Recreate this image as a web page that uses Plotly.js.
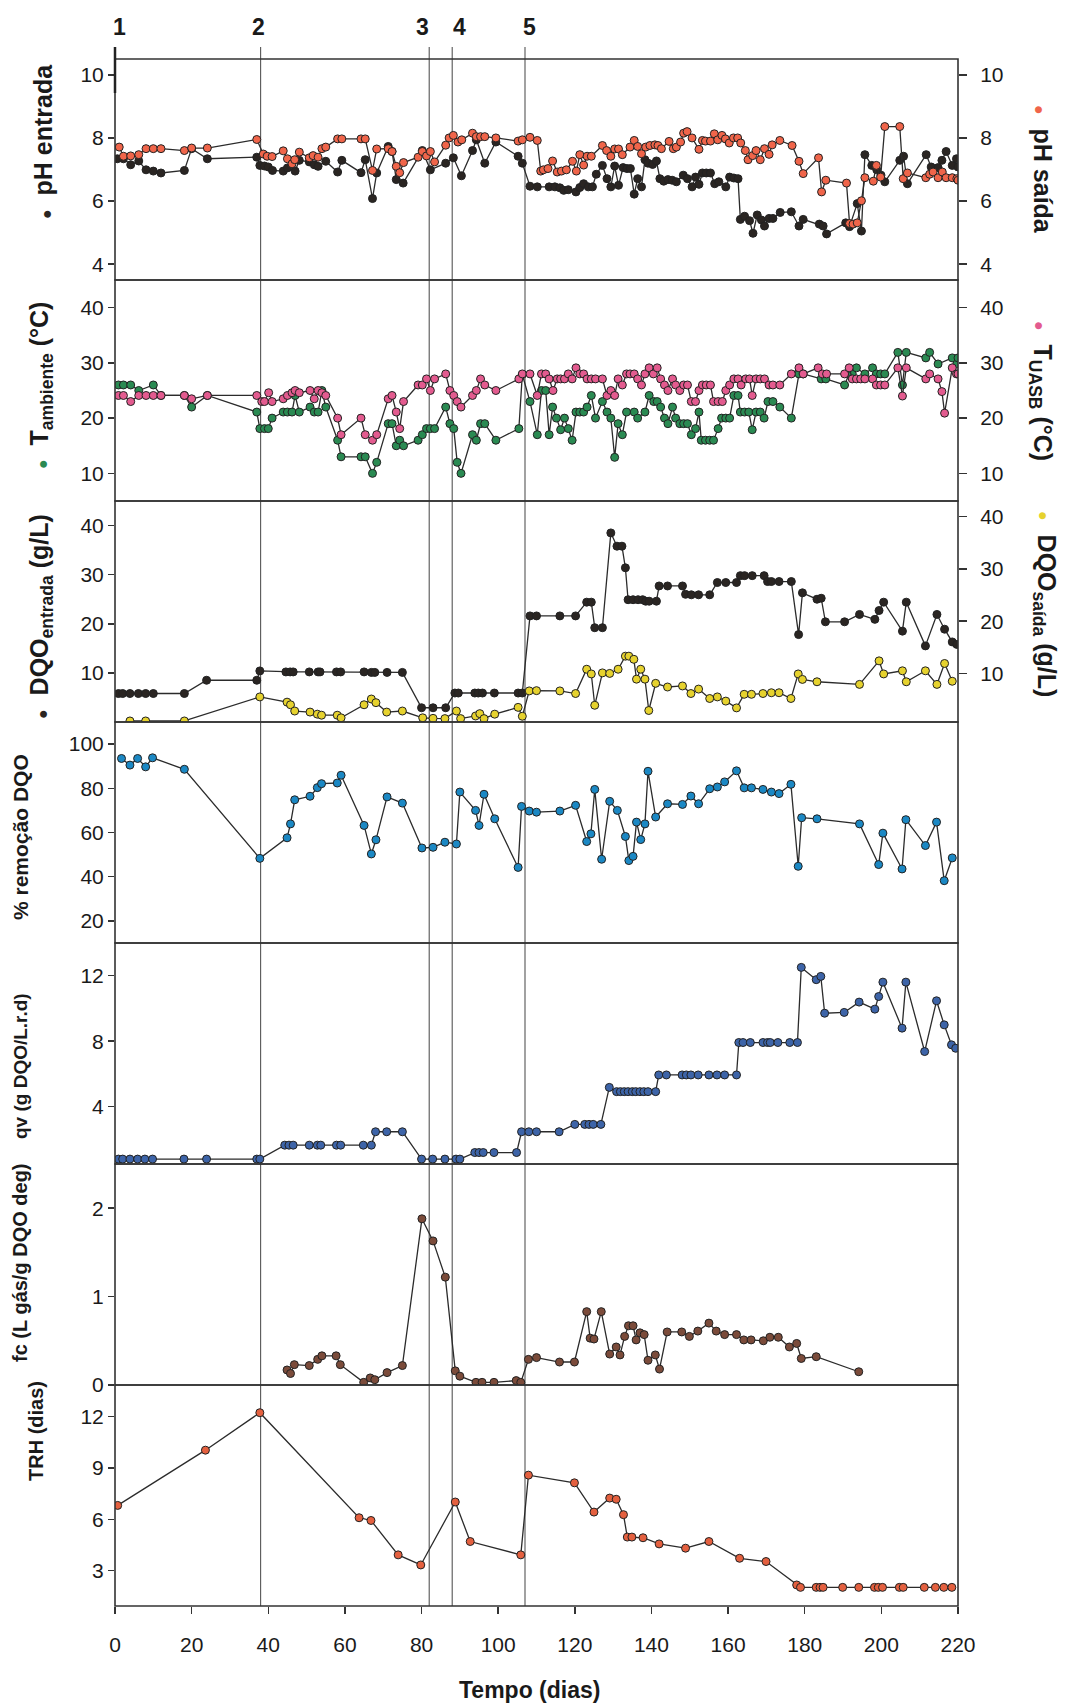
<!DOCTYPE html>
<html><head><meta charset="utf-8">
<script src="https://cdn.plot.ly/plotly-3.0.1.min.js"></script>
<style>body{margin:0;background:#fff}</style>
</head><body><div id="chart" style="width:1069px;height:1703px"></div>
<script>
// ---------- DATA ----------
const phInDays=[0.6,2.2,4.1,6.2,8.1,10.0,12.0,18.1,20.0,24.1,37.0,37.8,39.0,40.0,41.1,43.9,45.0,47.0,48.1,50.7,52.0,53.0,55.0,58.1,59.2,64.2,65.3,67.2,68.3,71.3,72.3,73.4,75.2,80.2,82.3,86.3,88.3,90.4,93.3,94.3,96.5,99.4,105.2,106.3,108.3,110.2,113.3,114.8,116.1,117.1,118.3,120.3,121.3,122.3,123.5,124.6,125.6,127.2,128.4,129.4,130.4,131.4,132.6,133.6,134.5,135.5,136.4,137.4,138.3,139.1,140.3,141.3,142.2,143.2,144.3,145.4,146.5,148.3,149.4,150.6,151.5,152.4,153.3,154.3,155.4,156.5,157.6,159.4,160.4,161.5,162.6,163.2,164.3,165.6,166.5,167.6,168.7,169.5,170.7,171.7,173.6,176.5,178.5,179.6,183.8,184.8,185.7,190.7,191.7,193.7,194.8,195.7,197.5,198.8,199.9,200.9,204.8,205.8,206.8,211.7,213.0,214.8,215.8,216.9,218.5,219.6,220];
const phIn=[7.34,7.34,7.15,7.27,6.99,6.95,6.89,6.97,7.66,7.34,7.39,7.13,7.11,7.08,6.97,6.95,7.05,6.95,7.29,7.24,7.15,7.10,7.26,6.92,7.29,6.90,7.31,6.08,6.89,7.73,7.57,6.68,6.57,7.60,6.99,7.20,7.37,6.80,7.60,7.94,7.20,7.87,7.42,7.20,6.47,6.45,6.45,6.45,6.42,6.34,6.36,6.29,6.43,6.55,6.45,6.45,6.85,7.13,6.71,6.45,7.11,6.50,7.06,7.03,7.03,6.22,6.71,6.45,7.31,7.20,7.16,7.27,6.71,6.63,6.68,6.66,6.61,6.82,6.71,6.45,6.76,6.53,6.89,6.89,6.89,6.55,6.61,6.45,6.76,6.73,6.71,5.42,5.52,5.38,4.98,5.56,5.40,5.21,5.45,5.45,5.64,5.66,5.21,5.42,5.27,5.21,4.96,5.31,5.19,5.92,5.05,7.47,7.13,6.99,6.82,6.61,7.29,7.42,6.55,7.47,7.08,7.06,7.29,7.57,7.13,7.34,7.08];
const phOutDays=[1.1,2.2,4.1,6.2,8.1,10.0,12.0,18.1,20.0,24.1,37.0,38.7,39.7,41.0,43.9,45.0,46.2,46.9,48.1,50.7,51.7,53.0,54.0,55.0,58.1,59.2,64.2,65.3,67.2,68.3,71.3,72.3,73.4,74.3,75.3,79.1,80.2,81.3,82.3,83.4,86.3,87.2,88.3,89.5,90.5,93.3,94.3,95.4,96.5,99.4,105.2,106.3,108.3,110.2,111.1,111.8,113.0,114.2,115.4,116.5,117.8,119.4,120.4,121.3,122.3,123.2,124.3,127.2,128.3,129.4,130.4,131.4,132.4,134.4,135.5,136.4,137.4,138.5,139.6,140.9,141.7,142.6,144.6,145.7,146.5,147.6,148.4,149.3,150.6,152.4,153.3,154.1,155.4,156.4,157.3,158.4,159.3,160.3,161.4,162.5,163.3,164.5,165.2,166.4,167.3,168.4,169.5,170.7,171.5,173.5,176.7,178.5,179.6,183.6,184.4,185.5,190.9,191.7,192.6,193.7,194.8,195.7,197.9,198.7,199.8,200.9,204.8,205.7,206.8,211.6,212.6,213.5,214.8,215.9,216.9,218.5,219.7,220];
const phOut=[7.71,7.42,7.43,7.47,7.66,7.66,7.66,7.60,7.68,7.68,7.95,7.49,7.42,7.41,7.59,7.34,7.18,7.31,7.55,7.37,7.44,7.39,7.66,7.71,7.97,7.97,7.97,7.97,6.97,7.65,7.66,7.57,7.10,6.90,7.22,7.39,7.57,7.43,7.57,7.24,7.77,8.00,8.08,7.87,7.94,8.15,8.04,8.04,8.04,8.00,7.90,7.94,8.02,7.92,6.95,6.99,7.03,7.27,6.92,6.95,6.99,7.26,6.95,7.47,7.14,7.42,7.42,7.76,7.60,7.42,7.65,7.65,7.47,7.71,7.92,7.73,7.50,7.71,7.76,7.78,7.76,7.66,7.89,7.66,7.71,7.87,8.15,8.20,8.00,7.64,7.92,7.90,7.90,8.13,7.94,8.08,7.97,7.84,8.00,8.00,7.84,7.60,7.31,7.44,7.60,7.31,7.66,7.48,7.78,7.92,7.76,7.26,6.87,7.37,6.29,6.66,6.57,5.29,5.27,5.31,6.01,6.74,6.63,7.13,6.76,8.36,8.36,6.71,6.89,6.74,6.85,6.92,6.74,6.92,6.74,6.74,6.71,6.66];

const tAmbDays=[0.9,2.2,4.1,6.2,10.0,12.0,18.1,20.0,24.1,37.0,37.8,39.0,40.0,41.0,43.9,45.0,46.2,47.0,48.1,50.9,52.0,53.0,54.0,55.0,58.1,59.0,64.2,65.3,67.2,68.3,71.3,72.3,73.4,74.3,75.3,79.1,80.2,81.3,82.3,83.4,86.3,87.4,88.4,89.3,90.3,93.3,94.3,95.4,96.5,99.4,105.4,106.3,108.3,110.2,111.3,112.4,113.3,114.2,115.2,116.3,117.3,118.3,119.3,120.3,121.3,122.3,123.2,124.3,125.4,127.2,128.4,129.4,130.4,131.3,132.4,133.5,135.5,136.4,138.3,139.4,140.6,141.5,142.4,143.4,144.3,145.5,146.3,147.4,148.4,149.4,150.4,151.5,152.4,153.0,154.1,155.2,156.2,157.4,158.3,159.4,160.4,161.5,162.6,163.2,164.3,165.4,166.3,167.3,168.4,169.4,170.4,171.7,173.5,176.5,178.5,179.6,184.3,185.5,190.4,191.6,192.4,193.5,195.7,197.7,198.7,199.8,200.9,204.3,205.5,206.5,211.6,212.6,214.8,218.5,219.7,220];
const tAmb=[26.0,26.0,26.0,25.0,26.0,24.1,24.1,22.0,24.1,21.1,18.1,18.1,18.1,20.0,21.1,21.1,21.1,24.1,21.1,22.0,21.1,21.1,25.0,22.0,16.0,13.0,13.0,13.0,10.0,12.0,19.0,19.0,15.0,16.0,15.0,16.0,17.0,18.1,18.1,18.1,22.0,19.0,18.1,12.0,10.0,17.0,16.0,19.0,19.0,16.0,18.1,27.9,23.0,17.0,25.0,25.0,17.0,22.0,20.0,17.9,20.0,18.1,16.0,21.1,21.1,21.1,22.0,24.1,20.0,23.0,21.1,20.0,12.9,19.0,17.0,21.1,21.1,20.0,21.1,24.1,23.0,23.0,22.0,20.0,19.0,22.0,20.0,19.0,19.0,19.0,17.0,18.1,21.1,16.0,16.0,16.0,16.0,18.1,20.0,20.0,20.0,24.1,24.1,21.1,21.1,21.1,17.9,21.1,21.1,20.0,23.0,23.0,22.0,20.0,28.0,28.0,27.1,27.1,26.0,28.0,28.0,29.1,28.0,29.1,28.0,28.0,28.0,31.9,26.0,31.9,30.9,31.9,29.8,30.9,29.8,30.9];
const tUasbDays=[0.9,2.2,4.1,6.2,8.1,10.0,12.0,18.1,20.0,24.1,37.0,38.3,39.0,40.1,41.0,43.9,45.0,46.2,47.0,48.1,50.9,52.0,53.0,54.0,55.0,58.1,59.0,64.2,65.3,67.2,68.3,71.3,72.3,73.4,74.3,75.3,79.1,80.2,81.3,82.3,83.4,86.3,87.4,88.4,89.3,90.3,93.3,94.3,95.4,96.5,99.4,105.4,106.3,108.3,110.2,111.3,112.4,113.3,114.3,115.4,116.3,117.3,118.3,119.3,120.3,121.3,122.3,123.2,124.3,125.4,127.2,128.4,129.4,130.4,131.3,132.4,133.5,134.4,135.5,136.4,137.4,138.3,139.4,140.5,141.5,142.4,143.4,144.3,145.5,146.3,147.4,148.4,149.4,150.4,151.5,152.4,153.3,154.3,155.4,156.2,157.4,158.5,159.4,160.4,161.5,162.6,163.4,164.6,165.6,166.3,167.3,168.4,169.5,170.7,171.7,173.5,176.5,178.5,179.6,183.5,184.6,185.7,190.4,191.6,192.4,193.5,194.6,195.7,197.7,198.7,199.8,200.9,204.3,205.5,206.5,211.6,212.6,214.8,215.8,216.5,218.5,219.6,220];
const tUasb=[24.1,24.1,23.0,24.1,24.1,24.1,24.1,24.1,23.5,24.1,24.1,23.0,23.0,24.6,23.0,23.5,24.1,24.6,25.0,24.6,25.0,23.5,25.0,24.6,24.1,20.0,17.0,20.0,17.0,16.0,17.0,23.5,24.1,21.1,18.1,23.0,26.0,26.0,27.1,25.0,27.1,28.0,25.0,24.1,23.0,22.0,24.1,25.0,27.1,26.0,25.0,27.1,28.0,28.0,24.1,28.0,28.0,27.1,25.0,27.1,27.1,27.1,28.0,27.1,29.1,28.0,28.0,27.1,27.1,27.1,27.1,24.1,25.0,24.1,27.1,26.0,28.0,28.0,28.0,27.1,26.0,28.0,29.1,28.0,29.1,27.1,26.0,25.0,27.1,26.0,25.0,26.0,26.0,23.0,23.0,25.0,26.0,26.0,26.0,23.0,23.0,23.0,25.0,26.0,27.1,27.1,26.0,27.1,27.1,24.1,27.1,27.1,27.1,26.0,26.0,26.0,28.0,29.1,28.0,29.1,28.0,28.0,28.0,29.1,27.1,27.1,27.1,27.1,27.1,26.0,26.0,26.0,29.1,24.0,29.1,27.1,28.0,27.1,24.8,20.9,29.1,28.0,28.0];

const dqoInDays=[0.9,2.0,3.9,6.1,8.0,10.0,18.1,23.9,37.0,37.8,44.6,45.7,46.5,50.7,53.0,53.5,57.8,58.9,65.0,66.9,67.8,71.0,75.0,80.0,83.0,86.3,88.7,89.6,93.9,94.8,95.9,99.0,105.2,106.3,108.3,110.0,116.1,120.2,123.1,124.3,125.2,127.2,129.4,131.0,132.3,133.2,133.9,135.2,136.5,137.7,138.5,139.4,141.3,142.0,144.2,148.1,148.9,150.4,152.3,155.2,157.2,159.4,162.2,163.2,164.3,166.3,169.4,170.3,171.3,173.3,176.5,178.4,179.4,183.2,184.3,185.4,190.4,194.3,198.3,199.4,200.6,205.5,206.5,211.5,214.5,216.5,218.5,219.7];
const dqoIn=[5.8,5.8,5.8,5.8,5.8,5.8,5.8,8.5,8.5,10.4,10.2,10.2,10.2,10.2,10.2,10.2,10.2,10.2,10.2,10.1,10.1,10.1,10.1,2.9,2.9,2.9,5.9,5.9,5.9,5.9,5.9,5.9,5.9,5.9,21.6,21.6,21.6,21.6,24.4,24.4,19.2,19.2,38.5,35.8,35.8,31.4,24.9,24.9,24.9,24.9,24.6,24.6,24.6,27.7,27.7,27.7,26.0,25.9,25.9,25.9,28.4,28.4,28.4,29.8,29.8,29.8,29.8,28.6,28.6,28.6,28.6,17.8,26.3,25.0,25.2,20.4,20.4,21.9,20.9,22.7,24.4,18.5,24.4,15.5,21.9,18.9,16.3,15.8];
const dqoOutDays=[3.9,8.0,18.1,37.8,44.9,45.8,46.9,50.9,52.8,53.9,58.0,59.0,65.0,66.9,68.1,70.9,75.0,80.3,83.0,86.1,89.1,90.2,94.1,95.2,96.3,99.1,105.2,106.3,108.1,110.0,116.1,120.2,123.1,124.3,125.2,127.2,129.1,131.3,133.2,134.1,135.4,136.1,137.2,138.3,139.3,141.1,144.2,148.1,150.3,152.3,155.2,157.2,159.4,162.2,164.2,166.1,169.1,171.3,173.3,176.4,178.3,179.4,183.2,194.3,199.4,200.6,205.5,206.5,211.5,214.5,216.5,218.5];
const dqoOut=[0.9,0.9,0.9,5.5,4.5,4.0,2.8,2.6,2.2,2.0,2.0,1.5,4.0,5.1,4.4,2.6,2.8,1.5,1.4,1.35,2.8,1.35,1.85,2.3,1.35,2.2,3.5,1.8,6.65,6.7,6.65,6.15,10.8,9.9,3.9,10.1,10.0,10.8,13.3,13.3,12.7,8.9,10.8,8.9,2.9,8.1,7.4,7.6,6.15,7.0,5.2,5.5,4.7,3.4,6.0,6.0,6.15,6.3,6.3,5.2,9.9,8.85,8.4,7.9,12.4,9.9,10.5,8.4,10.5,7.9,11.9,8.5];

const remDays=[1.7,3.9,5.9,8.0,9.8,18.1,37.8,44.9,45.8,46.9,50.9,52.8,53.9,58.0,59.0,65.0,66.9,68.1,71.0,75.0,80.1,83.0,86.1,89.1,90.0,94.1,95.0,96.3,99.1,105.2,106.1,108.1,110.0,116.1,120.2,123.1,124.2,125.2,127.0,129.1,131.1,133.2,134.1,135.2,136.1,137.2,138.3,139.1,141.1,144.2,148.1,150.3,152.3,155.2,157.2,159.1,162.2,164.2,166.1,169.1,171.3,173.3,176.4,178.3,179.2,183.2,194.3,199.3,200.4,205.4,206.4,211.5,214.4,216.4,218.5];
const remocao=[93.5,90.5,93.5,89.7,93.8,88.6,48.3,57.6,63.9,74.8,76.4,80.3,82.1,82.4,85.9,63.2,50.3,56.7,76.1,73.3,53.0,53.3,55.6,54.8,78.3,70.0,63.2,77.3,66.2,44.2,71.8,69.7,69.2,69.7,72.3,55.9,59.4,79.5,47.9,74.1,70.0,58.2,47.3,49.2,64.7,56.8,63.9,87.7,67.0,73.0,72.7,76.5,73.0,79.8,80.6,82.9,87.9,80.2,80.2,79.5,78.3,77.6,81.8,44.7,66.7,66.2,63.9,45.5,59.7,43.5,65.8,54.1,64.7,38.2,48.5];

const qvDays=[0.9,2.0,3.9,5.9,7.8,9.8,18.0,23.9,37.0,37.8,44.3,45.4,46.5,50.7,52.8,53.7,57.8,58.9,64.8,66.9,68.0,70.9,75.0,80.0,82.9,86.1,89.0,90.0,93.9,95.0,96.1,98.9,104.8,106.1,108.0,110.0,115.9,120.0,122.6,123.7,124.8,126.8,129.0,130.9,131.9,132.9,133.9,135.0,135.9,137.0,138.0,139.1,141.1,141.9,143.9,148.0,149.1,150.3,152.2,155.0,157.1,159.1,162.2,162.8,163.9,165.8,169.1,170.3,171.0,173.0,176.1,178.1,179.1,183.0,184.2,185.2,190.3,194.2,198.3,199.3,200.4,205.4,206.4,211.3,214.4,216.4,218.3,219.4];
const qv=[0.8,0.8,0.8,0.8,0.8,0.8,0.8,0.8,0.8,0.8,1.65,1.65,1.65,1.65,1.65,1.65,1.65,1.65,1.65,1.65,2.47,2.47,2.47,0.8,0.8,0.8,0.8,0.8,1.2,1.2,1.2,1.2,1.2,2.47,2.47,2.47,2.47,2.92,2.92,2.92,2.92,2.92,5.18,4.92,4.92,4.92,4.92,4.92,4.92,4.92,4.92,4.92,4.92,5.94,5.94,5.94,5.94,5.94,5.94,5.94,5.94,5.94,5.94,7.92,7.92,7.92,7.92,7.92,7.92,7.92,7.92,7.92,12.51,11.76,11.96,9.71,9.76,10.39,9.96,10.73,11.61,8.80,11.61,7.37,10.47,9.0,7.78,7.57];

const fcDays=[44.9,45.8,46.8,50.7,52.9,54.0,57.7,58.8,64.9,66.6,67.8,71.0,75.0,80.1,83.0,86.2,88.8,90.0,94.2,95.8,98.9,104.7,105.9,107.9,110.0,116.0,119.9,123.1,124.0,125.0,126.9,129.1,130.8,131.8,133.0,134.0,135.2,136.0,137.0,138.1,139.1,141.0,142.1,144.1,147.9,149.9,152.1,155.0,156.9,159.1,162.2,164.1,166.0,169.2,170.9,173.1,176.0,177.9,179.1,183.0,194.1];
const fc=[0.17,0.13,0.23,0.22,0.29,0.33,0.33,0.23,0.03,0.08,0.06,0.14,0.22,1.88,1.63,1.22,0.16,0.10,0.03,0.03,0.03,0.05,0.03,0.29,0.31,0.26,0.26,0.83,0.53,0.52,0.83,0.35,0.43,0.34,0.55,0.67,0.67,0.51,0.59,0.57,0.28,0.34,0.18,0.60,0.60,0.55,0.61,0.70,0.61,0.57,0.57,0.51,0.51,0.50,0.54,0.54,0.43,0.47,0.30,0.32,0.15];

const trhDays=[0.7,23.6,37.8,63.7,66.8,73.9,79.8,88.8,92.7,105.9,107.9,119.9,125.0,129.1,130.8,132.7,133.7,134.9,137.8,142.0,148.9,155.0,163.0,169.9,177.9,178.9,183.0,184.0,184.8,189.9,194.1,198.2,199.2,200.3,204.7,205.7,211.2,214.1,216.3,218.4];
const trh=[6.81,10.04,12.23,6.09,5.93,3.92,3.33,7.01,4.70,3.92,8.58,8.13,6.42,7.24,7.17,6.27,4.96,4.96,4.92,4.56,4.31,4.70,3.72,3.53,2.16,2.02,2.02,2.02,2.02,2.02,2.02,2.02,2.02,2.02,2.02,2.02,2.02,2.02,2.02,2.02];

const phaseDays=[38,82,88,107];
const phaseLabels=['1','2','3','4','5'];
const phaseLabelDays=[1.2,37.5,80.3,89.9,108.3];
const xTicks=[0,20,40,60,80,100,120,140,160,180,200,220];

// ---------- STYLE ----------
const FONT='Liberation Sans, Arial, sans-serif';
const tickFont={family:FONT,size:21,color:'#1a1a1a'};
const LINE='#2b2b2b';
const C={phIn:'#2a2522',phOut:'#f0654a',amb:'#2a8a52',uasb:'#e35b8f',dIn:'#2a2522',dOut:'#e6d22e',rem:'#1b88c4',qv:'#3d64a8',fc:'#7b4b3a',trh:'#e4603f'};

function ser(x,y,ax,col){
  return {x:x,y:y,yaxis:ax,xaxis:'x',type:'scatter',mode:'lines+markers',
    line:{color:LINE,width:1.3},
    marker:{color:col,size:8,line:{color:'#222',width:1}},hoverinfo:'skip'};
}
const traces=[
  ser(phInDays,phIn,'y',C.phIn),
  ser(phOutDays,phOut,'y8',C.phOut),
  ser(tAmbDays,tAmb,'y2',C.amb),
  ser(tUasbDays,tUasb,'y9',C.uasb),
  ser(dqoInDays,dqoIn,'y3',C.dIn),
  ser(dqoOutDays,dqoOut,'y10',C.dOut),
  ser(remDays,remocao,'y4',C.rem),
  ser(qvDays,qv,'y5',C.qv),
  ser(fcDays,fc,'y6',C.fc),
  ser(trhDays,trh,'y7',C.trh)
];

const N=7;
function dom(i){return [(N-1-i)/N,(N-i)/N];} // i=0 top
function yax(i,range,ticks,extra){
  return Object.assign({domain:dom(i),range:range,tickvals:ticks,ticks:'outside',ticklen:6,tickwidth:1.5,
    tickcolor:'#333',showgrid:false,zeroline:false,showline:false,tickfont:tickFont,anchor:'x',fixedrange:true},extra||{});
}
const R={ticklen:8,ticklabelstandoff:9};
const layout={
  width:1069,height:1703,margin:{l:115,r:111,t:59,b:97},
  paper_bgcolor:'#ffffff',plot_bgcolor:'rgba(0,0,0,0)',showlegend:false,
  xaxis:{range:[0,220],tickvals:xTicks,ticks:'outside',ticklen:7,tickwidth:1.5,tickcolor:'#333',ticklabelstandoff:13,
    showgrid:false,zeroline:false,showline:false,tickfont:tickFont,anchor:'y7',fixedrange:true},
  yaxis:yax(0,[3.5,10.5],[4,6,8,10]),
  yaxis2:yax(1,[5,45],[10,20,30,40]),
  yaxis3:yax(2,[0,45],[10,20,30,40]),
  yaxis4:yax(3,[10,110],[20,40,60,80,100]),
  yaxis5:yax(4,[0.5,14],[4,8,12]),
  yaxis6:yax(5,[0,2.5],[0,1,2]),
  yaxis7:yax(6,[0.93,13.85],[3,6,9,12]),
  yaxis8:yax(0,[3.5,10.5],[4,6,8,10],Object.assign({overlaying:'y',side:'right'},R)),
  yaxis9:yax(1,[5,45],[10,20,30,40],Object.assign({overlaying:'y2',side:'right'},R)),
  yaxis10:yax(2,[0.7,43],[10,20,30,40],Object.assign({overlaying:'y3',side:'right'},R)),
  shapes:[],annotations:[]
};
// panel frames
for(let i=0;i<N;i++){
  const d=dom(i);
  layout.shapes.push({type:'rect',xref:'paper',yref:'paper',x0:0,x1:1,y0:d[0],y1:d[1],
    line:{color:'#333',width:1.6},fillcolor:'rgba(0,0,0,0)',layer:'above'});
}
// phase lines
const PH=1547, yTopLines=(1606-47)/PH;
phaseDays.forEach(function(dd){
  layout.shapes.push({type:'line',xref:'x',yref:'paper',x0:dd,x1:dd,y0:0,y1:yTopLines,
    line:{color:'#555',width:1.1},layer:'below'});
});
layout.shapes.push({type:'line',xref:'paper',yref:'paper',x0:0,x1:0,y0:(1606-93)/PH,y1:yTopLines,line:{color:'#222',width:2.5}});
phaseLabels.forEach(function(t,k){
  layout.annotations.push({text:'<b>'+t+'</b>',xref:'x',yref:'paper',x:phaseLabelDays[k],y:(1606-27)/PH,
    showarrow:false,font:{family:FONT,size:23,color:'#1a1a1a'},xanchor:'center',yanchor:'middle'});
});
// axis titles
function px2x(px){return (px-115)/843;}
function py2y(py){return (1606-py)/PH;}
function dot(c){return '<span style="color:'+c+';font-size:16px">●</span>  ';}
const titles=[
  [dot(C.phIn)+'<b>pH entrada</b>',43,142,-90,25],
  [dot(C.amb)+'<b>T<sub>ambiente</sub> (°C)</b>',41,386,-90,25],
  [dot(C.dIn)+'<b>DQO<sub>entrada</sub> (g/L)</b>',41,617,-90,25],
  ['<b>% remoção DQO</b>',20,837,-90,21],
  ['<b>qv (g DQO/L.r.d)</b>',20,1066,-90,19],
  ['<b>fc (L gás/g DQO deg)</b>',20,1263,-90,20],
  ['<b>TRH (dias)</b>',36,1431,-90,20],
  [dot(C.phOut)+'<b>pH saída</b>',1043,169,90,25],
  [dot(C.uasb)+'<b>T<sub>UASB</sub> (°C)</b>',1041,391,90,25],
  [dot(C.dOut)+'<b>DQO<sub>saída</sub> (g/L)</b>',1045,604,90,25],
  ['<b>Tempo (dias)</b>',529,1690,0,23]
];
titles.forEach(function(t){
  layout.annotations.push({text:t[0],xref:'paper',yref:'paper',x:px2x(t[1]),y:py2y(t[2]),
    textangle:t[3],showarrow:false,font:{family:FONT,size:t[4],color:'#1a1a1a'},xanchor:'center',yanchor:'middle'});
});
Plotly.newPlot('chart',traces,layout,{staticPlot:true,displayModeBar:false});
</script></body></html>
